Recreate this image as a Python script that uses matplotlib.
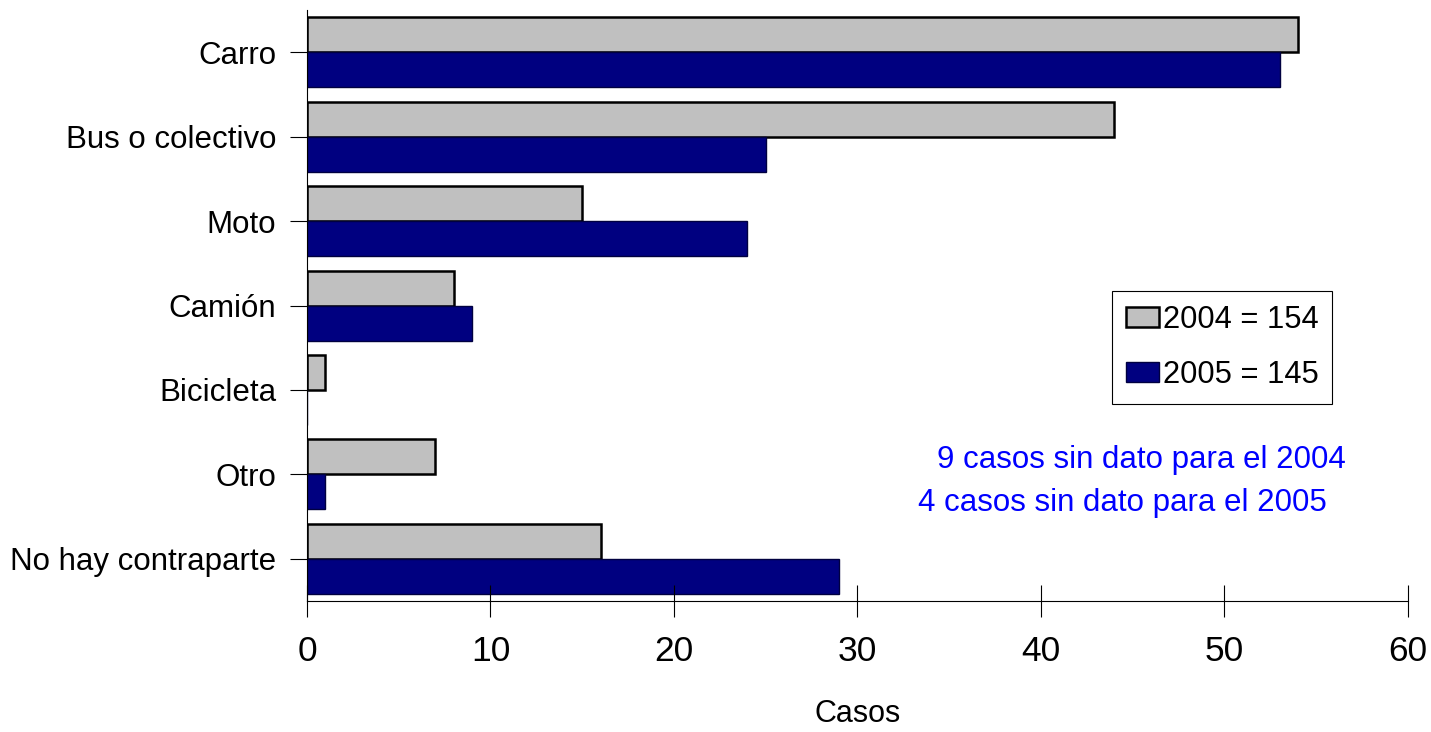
import numpy as np
import matplotlib
matplotlib.use("Agg")
import matplotlib.pyplot as plt

plt.rcParams['font.family'] = ['Liberation Sans', 'DejaVu Sans']

categories = ["Carro", "Bus o colectivo", "Moto", "Camión", "Bicicleta", "Otro", "No hay contraparte"]
casos_2004 = [54, 44, 15, 8, 1, 7, 16]
casos_2005 = [53, 25, 24, 9, 0, 1, 29]
legend_labels = ["2004 = 154", "2005 = 145"]
notes = ["9 casos sin dato para el 2004", "4 casos sin dato para el 2005"]
xticks = [0, 10, 20, 30, 40, 50, 60]

fig = plt.figure(figsize=(14.31, 7.32), dpi=100)
ax = fig.add_axes([0.2145, 0.179, 0.7694, 0.807])

y = np.arange(len(categories))
h = 0.415
ax.barh(y - h / 2, casos_2004, height=h, color="#C0C0C0", edgecolor="black",
        linewidth=1.8, label=legend_labels[0])
ax.barh(y + h / 2, casos_2005, height=h, color="#000080", edgecolor="#000040",
        linewidth=1.0, label=legend_labels[1])

ax.set_ylim(len(categories) - 0.5, -0.5)
ax.set_xlim(0, 60)
ax.set_yticks(y)
ax.set_yticklabels(categories, fontsize=22.5)
ax.set_xticks(xticks)
ax.set_xticklabels([str(t) for t in xticks], fontsize=25.5)
ax.tick_params(axis="y", direction="out", length=12, width=0.8, pad=10)
ax.tick_params(axis="x", direction="inout", length=23, width=0.8, pad=13)
ax.set_xlabel("Casos", fontsize=22, labelpad=22)

for s in ["top", "right"]:
    ax.spines[s].set_visible(False)
for s in ["left", "bottom"]:
    ax.spines[s].set_linewidth(0.8)

leg = ax.legend(loc="upper left", bbox_to_anchor=(0.731, 0.5245), borderaxespad=0,
                fontsize=22.2, fancybox=False, framealpha=1, edgecolor="black",
                handlelength=1.08, handleheight=0.65, handletextpad=0.12,
                labelspacing=0.8, borderpad=0.45)
leg.get_frame().set_linewidth(0.8)

ax.text(0.7575, 0.2386, notes[0], transform=ax.transAxes, ha="center", va="center",
        fontsize=22.5, color="#0000FF")
ax.text(0.741, 0.1658, notes[1], transform=ax.transAxes, ha="center", va="center",
        fontsize=22.5, color="#0000FF")

fig.savefig("out.png", dpi=100)
